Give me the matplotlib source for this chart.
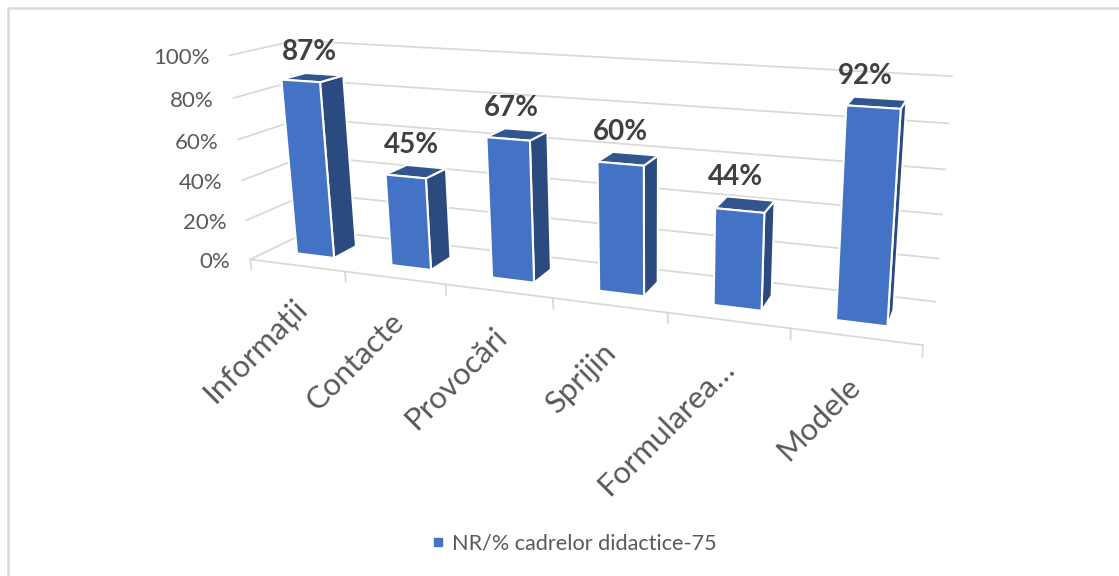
import numpy as np
import matplotlib
import matplotlib.pyplot as plt
from matplotlib.lines import Line2D
from matplotlib.patches import Polygon

matplotlib.use('Agg')

categories = ['Informații', 'Contacte', 'Provocări', 'Sprijin', 'Formularea…', 'Modele']
values = [87, 45, 67, 60, 44, 92]
y_ticks = [0, 20, 40, 60, 80, 100]
series_name = 'NR/% cadrelor didactice-75'

BLUE = '#4472c4'
SIDE = '#2a4a80'
TOP = '#31558f'
GRID = '#d9d9d9'
TEXT = '#595959'

plt.rcParams['font.family'] = ['Lato', 'DejaVu Sans']

# box corners (across, depth, height) -> where they land in the picture
box = [(0, 0, 0), (1, 0, 0), (0, 1, 0), (1, 1, 0), (0, 0, 1), (0, 1, 1), (1, 1, 1)]
pix = [(248, 260), (923, 345), (314, 229), (935, 302), (232, 55), (293, 41), (952, 76)]

rows = []
for (u, d, h), (px, py) in zip(box, pix):
    rows.append([u, d, h, 1, 0, 0, 0, 0, -px*u, -px*d, -px*h, -px])
    rows.append([0, 0, 0, 0, u, d, h, 1, -py*u, -py*d, -py*h, -py])
cam = np.linalg.svd(np.array(rows))[2][-1].reshape(3, 4)


def project(u, d, h):
    x, y, w = cam @ np.array([u, d, h, 1.0])
    return x / w, y / w


fig = plt.figure(figsize=(11.19, 5.76), dpi=100)
ax = fig.add_axes([0, 0, 1, 1])
ax.set_xlim(0, 1119)
ax.set_ylim(576, 0)
ax.axis('off')

# chart frame, only top and left show in the crop
ax.plot([8, 8, 1119], [576, 8, 8], color='#d9d9d9', lw=1.8)

# walls
for t in y_ticks:
    h = t / 100
    pts = [project(0, 0, h), project(0, 1, h), project(1, 1, h)]
    ax.plot(*zip(*pts), color=GRID, lw=1.3, zorder=1, solid_joinstyle='miter')
    x, y = project(0, 0, h)
    ax.text(x - 20, y + 3, f'{t}%', ha='right', va='center', fontsize=16, color=TEXT)

# category axis
ax.plot(*zip(project(0, 0, 0), project(1, 0, 0)), color=GRID, lw=1.3, zorder=1)
for i in range(len(categories) + 1):
    u = i / len(categories)
    ax.plot(*zip(project(u, 0, 0), project(u, 0, -0.05)), color=GRID, lw=1.3, zorder=1)

bar_w = 0.4
d0, d1 = 0.3, 0.68
n = len(categories)
for i, (name, v) in enumerate(zip(categories, values)):
    u0 = (i + 0.5 - bar_w / 2) / n
    u1 = (i + 0.5 + bar_w / 2) / n
    h = v / 100
    side = [project(u1, d0, 0), project(u1, d1, 0), project(u1, d1, h), project(u1, d0, h)]
    top = [project(u0, d0, h), project(u1, d0, h), project(u1, d1, h), project(u0, d1, h)]
    front = [project(u0, d0, 0), project(u1, d0, 0), project(u1, d0, h), project(u0, d0, h)]
    for pts, col in [(side, SIDE), (top, TOP), (front, BLUE)]:
        ax.add_patch(Polygon(pts, closed=True, fc=col, ec='white', lw=1.5, zorder=3, joinstyle='round'))

    # value above the bar
    x, y = project((u0 + u1) / 2, d1, h)
    ax.text(x - 15, y - 22, f'{v}%', ha='center', va='center', fontsize=20, fontweight='bold',
            color='#404040', zorder=5)

    # category label hangs off the axis at 45 degrees
    x, y = project((i + 0.5) / n, 0, -0.2)
    ax.text(x - 8, y - 10, name, rotation=45, rotation_mode='anchor', ha='right', va='top',
            fontsize=22.4, color=TEXT)

handle = Line2D([], [], ls='', marker='s', ms=6, color=BLUE, label=series_name)
ax.legend(handles=[handle], loc='center', bbox_to_anchor=(575, 544), bbox_transform=ax.transData,
          frameon=False, fontsize=15.6, labelcolor=TEXT, handlelength=0.4, handletextpad=0.45)

plt.savefig('out.png', dpi=100)
plt.close()
